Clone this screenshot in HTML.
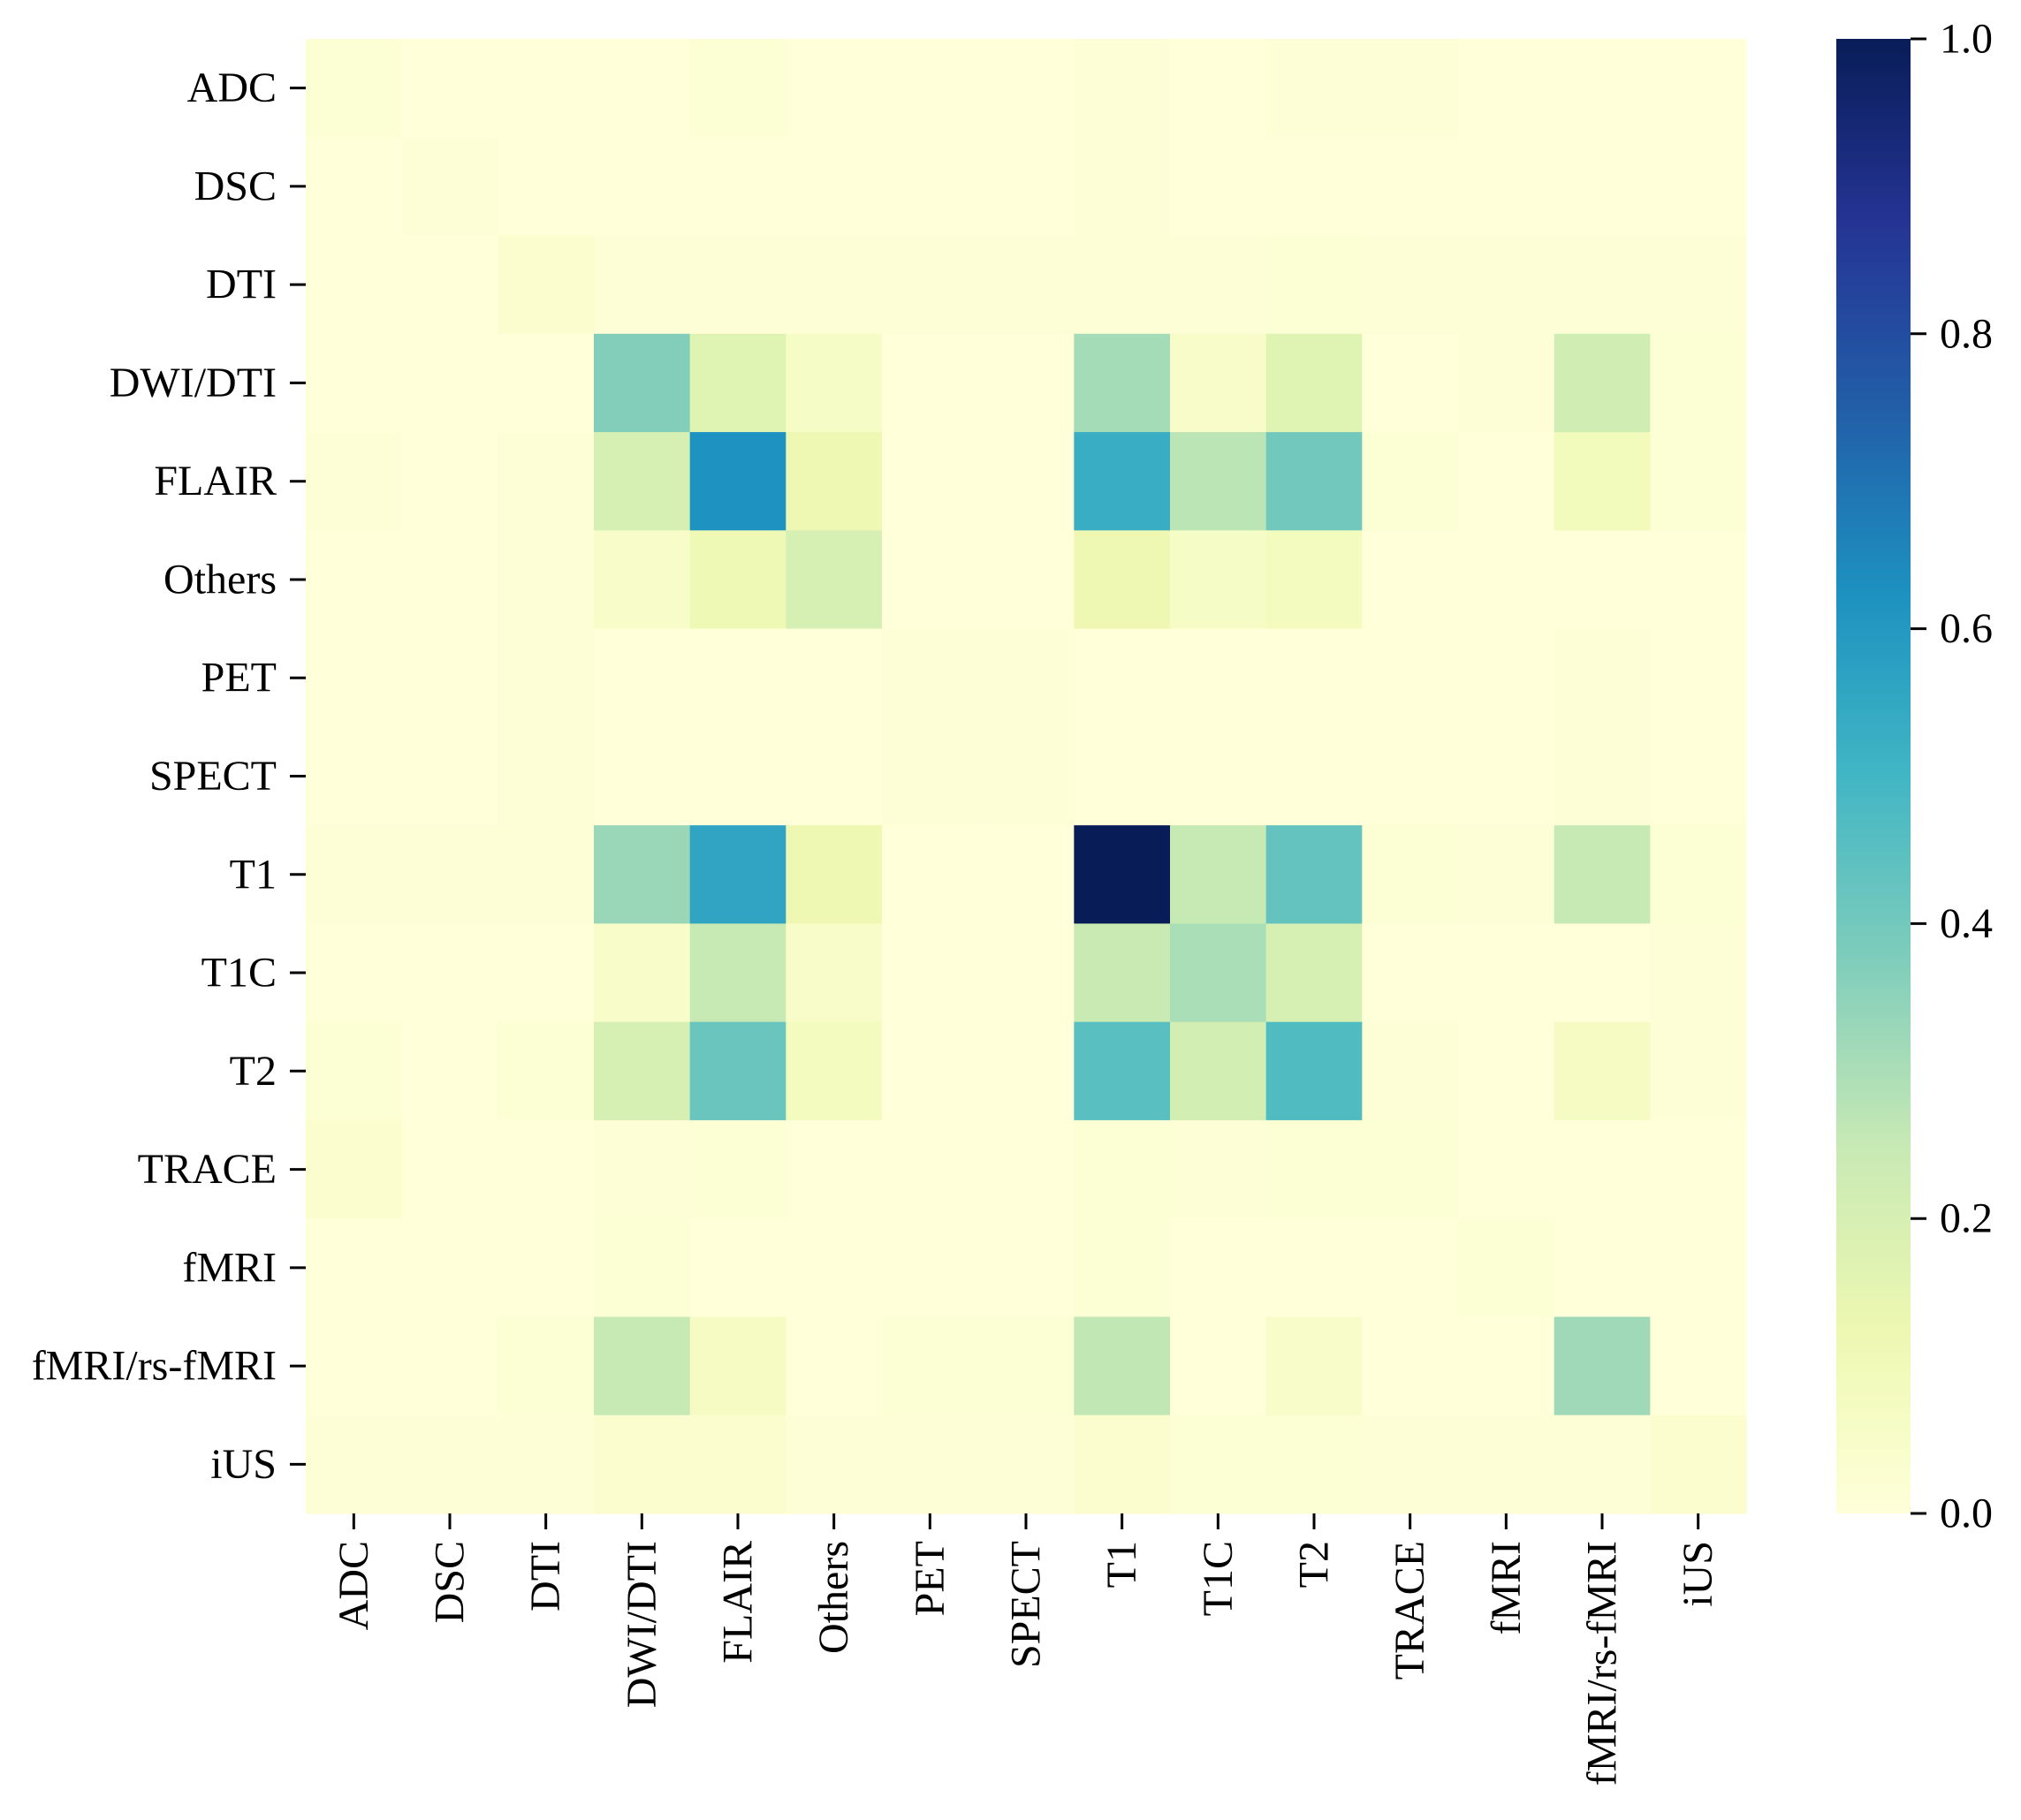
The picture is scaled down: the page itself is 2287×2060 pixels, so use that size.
<!DOCTYPE html>
<html><head><meta charset="utf-8"><style>
html,body{margin:0;padding:0;background:#fff;}
svg text{font-family:"Liberation Serif","Times New Roman",serif;font-size:48px;fill:#000;}
</style></head><body>
<svg id="chart" width="2287" height="2055" xmlns="http://www.w3.org/2000/svg">
<defs><linearGradient id="cbg" x1="0" y1="1" x2="0" y2="0">
<stop offset="0" stop-color="#ffffd9"/><stop offset="0.125" stop-color="#edf8b1"/><stop offset="0.25" stop-color="#c7e9b4"/><stop offset="0.375" stop-color="#7fcdbb"/><stop offset="0.5" stop-color="#41b6c4"/><stop offset="0.625" stop-color="#1d91c0"/><stop offset="0.75" stop-color="#225ea8"/><stop offset="0.875" stop-color="#253494"/><stop offset="1" stop-color="#081d58"/>
</linearGradient></defs>
<g id="cells"></g>
<g id="axes"></g>
<rect x="2078" y="44" width="84" height="1669" fill="url(#cbg)"/>
<g id="cbar"></g>
</svg>
<script>
const categories=["ADC","DSC","DTI","DWI/DTI","FLAIR","Others","PET","SPECT","T1","T1C","T2","TRACE","fMRI","fMRI/rs-fMRI","iUS"];
const rowADC=[0.02,0,0,0,0.02,0,0,0,0.01,0,0.01,0.01,0,0,0];
const rowDSC=[0,0.01,0,0,0,0,0,0,0.01,0,0,0,0,0,0];
const rowDTI=[0,0,0.03,0.01,0.01,0.01,0.01,0.01,0.01,0.01,0.02,0.01,0.01,0.01,0.01];
const rowDWI=[0,0,0,0.37,0.17,0.06,0,0,0.31,0.05,0.17,0,0.01,0.22,0.02];
const rowFLAIR=[0.01,0,0.01,0.2,0.62,0.12,0,0,0.53,0.27,0.4,0.02,0,0.09,0.02];
const rowOthers=[0,0,0.01,0.05,0.11,0.2,0,0,0.12,0.06,0.08,0,0,0,0];
const rowPET=[0,0,0.01,0,0,0,0.01,0.01,0,0,0,0,0,0.01,0];
const rowSPECT=[0,0,0.01,0,0,0,0.01,0.01,0,0,0,0,0,0.01,0];
const rowT1=[0.01,0.01,0.01,0.33,0.56,0.12,0,0,1.0,0.25,0.43,0.02,0.01,0.25,0.02];
const rowT1C=[0,0,0,0.05,0.25,0.05,0,0,0.24,0.3,0.2,0,0,0,0.01];
const rowT2=[0.02,0,0.02,0.2,0.42,0.08,0,0,0.45,0.21,0.47,0.01,0,0.07,0.01];
const rowTRACE=[0.03,0,0,0.01,0.02,0,0,0,0.02,0.01,0.02,0.02,0,0,0];
const rowFMRI=[0,0,0,0.02,0,0,0,0,0.02,0,0,0,0.02,0,0];
const rowRS=[0,0,0.02,0.25,0.07,0,0.02,0.02,0.26,0,0.05,0,0,0.32,0];
const rowIUS=[0.01,0.01,0.01,0.03,0.03,0.01,0.01,0.01,0.03,0.02,0.02,0.01,0.01,0.01,0.03];
const values=[rowADC,rowDSC,rowDTI,rowDWI,rowFLAIR,rowOthers,rowPET,rowSPECT,rowT1,rowT1C,rowT2,rowTRACE,rowFMRI,rowRS,rowIUS];
const cbTicks=[0,0.2,0.4,0.6,0.8,1.0];
const cbTickLabels=["0.0","0.2","0.4","0.6","0.8","1.0"];

const NS="http://www.w3.org/2000/svg";
const L=346,R=1976,T=44,B=1713,CB0=1713,CBT=44;
const n=categories.length, cw=(R-L)/n, ch=(B-T)/n;
const xs=i=>L+i*cw, ys=j=>T+j*ch, cbY=v=>CB0-v*(CB0-CBT);
const stops=["#ffffd9","#edf8b1","#c7e9b4","#7fcdbb","#41b6c4","#1d91c0","#225ea8","#253494","#081d58"].map(h=>[1,3,5].map(k=>parseInt(h.substr(k,2),16)));
function color(v){v=Math.max(0,Math.min(1,v));const p=v*8,i=Math.min(7,Math.floor(p)),f=p-i;const c=stops[i].map((a,k)=>Math.round(a+(stops[i+1][k]-a)*f));return `rgb(${c})`;}
function mk(tag,attrs,parent,txt){const e=document.createElementNS(NS,tag);for(const k in attrs)e.setAttribute(k,attrs[k]);if(txt!==undefined)e.textContent=txt;parent.appendChild(e);return e;}
const cells=document.getElementById('cells'),axes=document.getElementById('axes'),cbar=document.getElementById('cbar');
values.forEach((row,j)=>row.forEach((v,i)=>{
  const r=mk('rect',{x:xs(i),y:ys(j),width:cw+0.6,height:ch+0.6,fill:color(v)},cells);
  
  
}));
categories.forEach((c,j)=>{
  const y=ys(j)+ch/2;
  const t=mk('line',{x1:328,x2:346,y1:y,y2:y,stroke:'#000','stroke-width':3},axes);
  
  
  const tx=mk('text',{x:313,y:y,'text-anchor':'end','dominant-baseline':'central'},axes,c);
  
  
});
categories.forEach((c,i)=>{
  const x=xs(i)+cw/2;
  const t=mk('line',{x1:x,x2:x,y1:1713,y2:1731,stroke:'#000','stroke-width':3},axes);
  
  
  const tx=mk('text',{x:0,y:0,'text-anchor':'end','dominant-baseline':'central',transform:`translate(${x},1744) rotate(-90)`},axes,c);
  
  
});
cbTicks.forEach((v,k)=>{
  const y=cbY(v);
  const t=mk('line',{x1:2162,x2:2180,y1:y,y2:y,stroke:'#000','stroke-width':3},cbar);
  
  
  const tx=mk('text',{x:2195,y:y,'dominant-baseline':'central'},cbar,cbTickLabels[k]);
  
  
});
</script>
</body></html>
